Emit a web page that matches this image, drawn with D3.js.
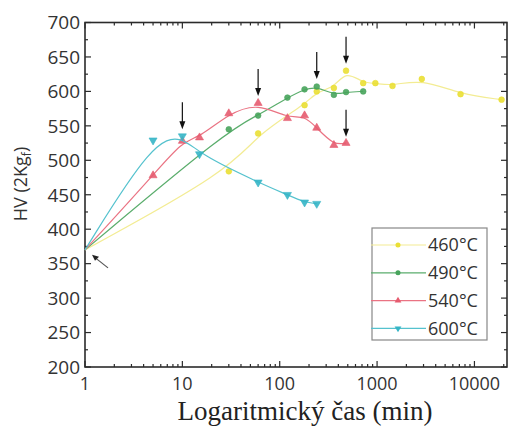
<!DOCTYPE html>
<html>
<head>
<meta charset="utf-8">
<script src="https://cdn.jsdelivr.net/npm/d3@7"></script>
<style>
  html, body { margin: 0; padding: 0; background: #fff; }
  svg { display: block; }
</style>
</head>
<body>
<script>
(function(window, document, undefined){

	// --- data ---
	var series = ['460°C', '490°C', '540°C', '600°C'];

	var time460 = [1, 30, 60, 180, 240, 360, 480, 720, 960, 1440, 2880, 7200, 19000];
	var hv460   = [370, 484, 539, 580, 600, 605, 630, 612, 612, 608, 618, 596, 588];

	var time490 = [1, 30, 60, 120, 180, 240, 360, 480, 720];
	var hv490   = [370, 545, 565, 591, 603, 607, 595, 599, 600];

	var time540 = [1, 5, 10, 15, 30, 60, 120, 180, 240, 360, 480];
	var hv540   = [370, 478, 528, 533, 568, 583, 561, 565, 547, 522, 525];

	var time600 = [1, 5, 10, 15, 60, 120, 180, 240];
	var hv600   = [370, 529, 535, 509, 468, 450, 439, 437];

	var xTickValues = [1, 10, 100, 1000, 10000];
	var yTickValues = [200, 250, 300, 350, 400, 450, 500, 550, 600, 650, 700];

	// arrows pointing down at the peak markers: [time, hv]
	var arrowTimes = [10, 60, 240, 480, 480];
	var arrowHv    = [535, 583, 608, 630, 524];

	// --- look ---
	var width = 509, height = 428;
	var left = 85, right = 507, top = 22.5, bottom = 367;

	var lineColors   = ['#f3ec93', '#5aad6c', '#ea7383', '#55c2ce'];
	var markerColors = ['#eadf34', '#48a45c', '#e65b6f', '#35b5c6'];
	var symbols      = [d3.symbolCircle, d3.symbolCircle, d3.symbolTriangle, d3.symbolTriangle];
	var symbolTurn   = [0, 0, 0, 180];

	var svg = d3.select('body')
				.append('svg')
				.attr('width', width)
				.attr('height', height);

	var x = d3.scaleLog().domain([1, 21600]).range([left, right]);
	var y = d3.scaleLinear().domain([200, 700]).range([bottom, top]);

	var axisColor = '#2b2b2b';
	var labelColor = '#333';
	var sans = 'Open Sans';

	// minor log ticks 2..9 in every decade
	var minorX = [];
	for (var d = 1; d <= 10000; d *= 10) {
		for (var k = 2; k <= 9; k++) {
			if (d * k <= 21600) minorX.push(d * k);
		}
	}
	var minorY = d3.range(225, 700, 50);

	var frame = svg.append('g');

	// ticks pointing inward on all four sides
	function xTicks(vals, len) {
		vals.forEach(function(v){
			frame.append('line')
				.attr('x1', x(v)).attr('x2', x(v))
				.attr('y1', bottom).attr('y2', bottom - len)
				.attr('stroke', axisColor).attr('stroke-width', 1.2);
			frame.append('line')
				.attr('x1', x(v)).attr('x2', x(v))
				.attr('y1', top).attr('y2', top + len)
				.attr('stroke', axisColor).attr('stroke-width', 1.2);
		});
	}
	function yTicks(vals, len) {
		vals.forEach(function(v){
			frame.append('line')
				.attr('x1', left).attr('x2', left + len)
				.attr('y1', y(v)).attr('y2', y(v))
				.attr('stroke', axisColor).attr('stroke-width', 1.2);
			frame.append('line')
				.attr('x1', right).attr('x2', right - len)
				.attr('y1', y(v)).attr('y2', y(v))
				.attr('stroke', axisColor).attr('stroke-width', 1.2);
		});
	}
	xTicks(xTickValues, 6);
	xTicks(minorX, 3);
	yTicks(yTickValues, 6);
	yTicks(minorY, 3);

	frame.append('rect')
		.attr('x', left).attr('y', top)
		.attr('width', right - left).attr('height', bottom - top)
		.attr('fill', 'none')
		.attr('stroke', axisColor)
		.attr('stroke-width', 1.6);

	// tick labels
	svg.selectAll('.xl')
		.data(xTickValues)
		.enter().append('text')
		.attr('x', function(d){ return x(d); })
		.attr('y', 390)
		.attr('text-anchor', 'middle')
		.attr('font-family', sans)
		.attr('font-size', 18)
		.attr('fill', labelColor)
		.text(function(d){ return d; });

	svg.selectAll('.yl')
		.data(yTickValues)
		.enter().append('text')
		.attr('x', 80)
		.attr('y', function(d){ return y(d); })
		.attr('dy', '0.36em')
		.attr('text-anchor', 'end')
		.attr('font-family', sans)
		.attr('font-size', 19)
		.attr('fill', labelColor)
		.text(function(d){ return d; });

	// axis titles
	svg.append('text')
		.attr('x', 305)
		.attr('y', 420)
		.attr('text-anchor', 'middle')
		.attr('font-family', 'Liberation Serif')
		.attr('font-size', 27)
		.attr('fill', '#222')
		.text('Logaritmický čas (min)');

	var yTitle = svg.append('text')
		.attr('transform', 'translate(27,' + 184 + ') rotate(-90)')
		.attr('text-anchor', 'middle')
		.attr('font-family', sans)
		.attr('font-size', 18)
		.attr('fill', labelColor);
	yTitle.append('tspan').text('HV (2Kg');
	yTitle.append('tspan').attr('font-size', 12).attr('dy', 4).text('f');
	yTitle.append('tspan').attr('dy', -4).text(')');

	// curves
	var times = [time460, time490, time540, time600];
	var values = [hv460, hv490, hv540, hv600];

	var line = d3.line()
		.x(function(d){ return x(d[0]); })
		.y(function(d){ return y(d[1]); })
		.curve(d3.curveBasis);

	var plot = svg.append('g');

	times.forEach(function(ts, i){
		var pts = ts.map(function(t, j){ return [t, values[i][j]]; });

		plot.append('path')
			.attr('d', line(pts))
			.attr('fill', 'none')
			.attr('stroke', lineColors[i])
			.attr('stroke-width', 1.2);

		// the shared start point at 1 min carries no visible marker
		plot.selectAll('.m' + i)
			.data(pts.slice(1))
			.enter().append('path')
			.attr('d', d3.symbol().type(symbols[i]).size(i < 2 ? 26 : 28))
			.attr('transform', function(d){
				return 'translate(' + x(d[0]) + ',' + y(d[1]) + ') rotate(' + symbolTurn[i] + ')';
			})
			.attr('fill', markerColors[i])
			.attr('fill-opacity', 0.9)
			.attr('stroke', markerColors[i])
			.attr('stroke-width', 0.6);
	});

	// arrows
	var ann = svg.append('g');
	arrowTimes.forEach(function(t, i){
		var ax = x(t), tip = y(arrowHv[i]) - 7;
		ann.append('line')
			.attr('x1', ax).attr('x2', ax)
			.attr('y1', tip - 27).attr('y2', tip - 6)
			.attr('stroke', '#111').attr('stroke-width', 1.2);
		ann.append('path')
			.attr('d', 'M' + (ax - 3) + ',' + (tip - 8) + ' L' + (ax + 3) + ',' + (tip - 8) + ' L' + ax + ',' + tip + ' Z')
			.attr('fill', '#111');
	});

	// slanted arrow pointing at the common start point
	var sx = x(time600[0]), sy = y(hv600[0]);
	ann.append('line')
		.attr('x1', sx + 23).attr('y1', sy + 18)
		.attr('x2', sx + 11).attr('y2', sy + 8.5)
		.attr('stroke', '#555').attr('stroke-width', 1.2);
	ann.append('path')
		.attr('d', 'M' + (sx + 7) + ',' + (sy + 5) + ' L' + (sx + 14) + ',' + (sy + 7) + ' L' + (sx + 10) + ',' + (sy + 11) + ' Z')
		.attr('fill', '#222');

	// legend
	var lg = svg.append('g');
	lg.append('rect')
		.attr('x', 372).attr('y', 228)
		.attr('width', 115).attr('height', 112)
		.attr('fill', '#fff')
		.attr('stroke', '#888')
		.attr('stroke-width', 1.2);

	series.forEach(function(name, i){
		var ly = 245 + i * 27.8;
		lg.append('line')
			.attr('x1', 371).attr('x2', 426)
			.attr('y1', ly).attr('y2', ly)
			.attr('stroke', lineColors[i])
			.attr('stroke-width', 1.2);
		lg.append('path')
			.attr('d', d3.symbol().type(symbols[i]).size(20))
			.attr('transform', 'translate(398,' + ly + ') rotate(' + symbolTurn[i] + ')')
			.attr('fill', markerColors[i]);
		lg.append('text')
			.attr('x', 428)
			.attr('y', ly)
			.attr('dy', '0.36em')
			.attr('font-family', sans)
			.attr('font-size', 18)
			.attr('fill', labelColor)
			.text(name);
	});

})(this, document);
</script>
</body>
</html>
